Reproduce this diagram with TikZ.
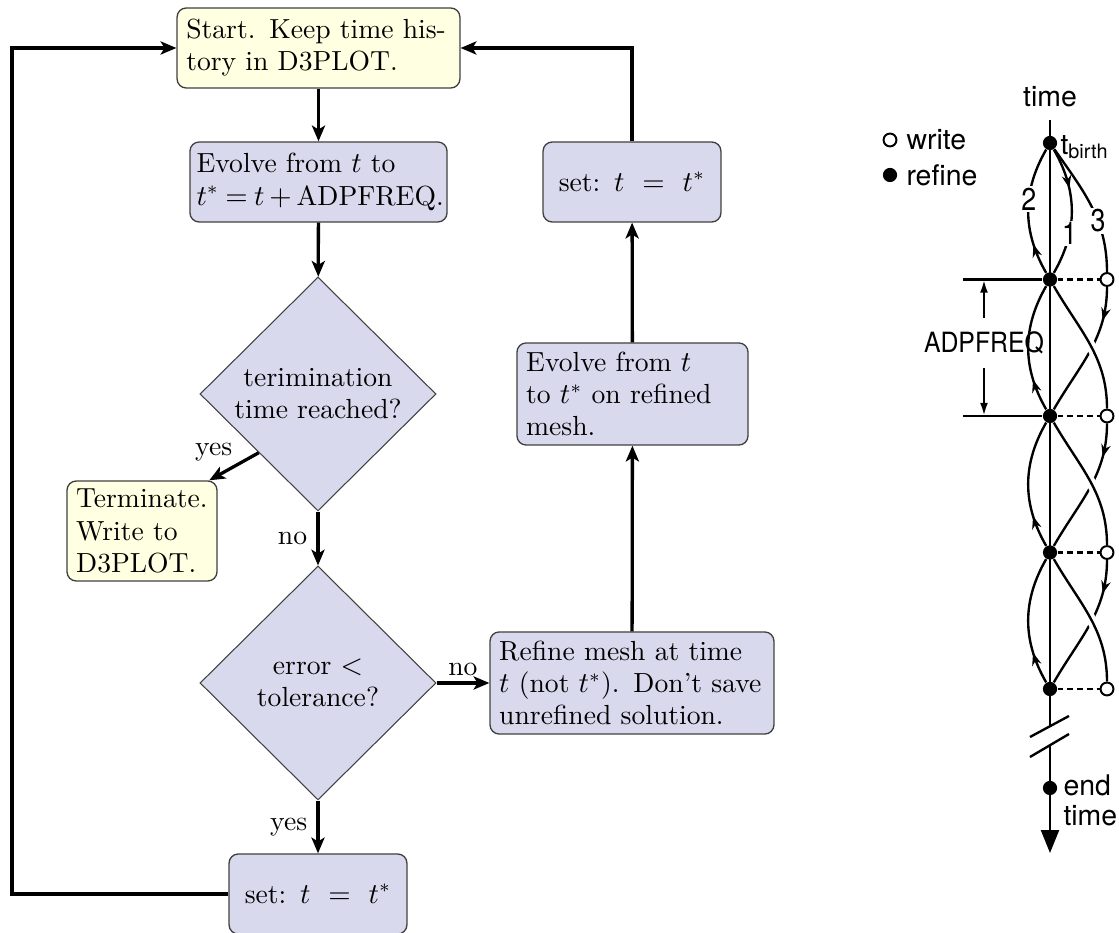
\documentclass[tikz,border=0pt]{standalone}
\usepackage{fontspec}
\usepackage{graphicx}
\usepackage{xcolor}
\usetikzlibrary{shapes.geometric,arrows.meta,decorations.markings}
\newfontfamily\helv{TeX Gyre Heros}
\definecolor{boxyel}{HTML}{FFFFE1}
\definecolor{boxlav}{HTML}{D9D9EE}
\definecolor{boxedge}{HTML}{404040}

\tikzset{
  flowbox/.style={draw=boxedge, line width=0.5pt, rounded corners=3.5pt,
    align=left, inner xsep=3.5pt, inner ysep=2pt,
    font=\fontsize{10.5}{12.2}\selectfont},
  yelbox/.style={flowbox, fill=boxyel},
  lavbox/.style={flowbox, fill=boxlav},
  setbox/.style={lavbox, align=center, text width=60.6pt, minimum height=30.4pt},
  question/.style={diamond, draw=boxedge, line width=0.4pt, fill=boxlav,
    inner sep=0pt, minimum width=89.7pt, minimum height=88.9pt, align=center,
    font=\fontsize{10.5}{12.2}\selectfont},
  flowarrow/.style={line width=1.25pt, -{Stealth[length=6pt,width=5pt,inset=1.5pt]}},
  flowlabel/.style={font=\fontsize{10.5}{12.2}\selectfont, inner sep=3.5pt},
  timeline/.style={line width=0.9pt},
  refdot/.style={circle, fill=black, inner sep=0pt, minimum size=5.4pt},
  writedot/.style={circle, draw=black, fill=white, line width=0.75pt, inner sep=0pt, minimum size=4.9pt},
  midarrow/.style={postaction={decorate}, decoration={markings,
    mark=at position #1 with {\arrow{Stealth[length=4.8pt,width=3.6pt]}}}},
  crossover/.style={preaction={draw=white, line width=3.8pt}},
  helvlabel/.style={font=\helv\fontsize{10.8}{11.4}\selectfont, inner sep=0pt},
  pathnum/.style={font=\helv\fontsize{12}{12}\selectfont, fill=white, inner sep=0.6pt},
}

\begin{document}
\begin{tikzpicture}[x=0.38pt, y=0.38pt]
  \useasboundingbox (0,0) rectangle (1119,933);

  % flow chart
  \node[yelbox, text width=100.5pt, minimum height=30.4pt] (start) at (318.5,885)
    {Start. Keep time his-\\tory in D3PLOT.};
  \node[lavbox, inner xsep=2.5pt, text width=92.7pt, minimum height=30.4pt] (evolve) at (318.5,751)
    {Evolve from $t$ to\\\mbox{\thickmuskip=4mu \medmuskip=3mu $t^* = t + \mathrm{ADPFREQ}$.}};
  \node[question] (reached) at (318,539) {terimination\\time reached?};
  \node[yelbox, text width=50pt, minimum height=38pt] (stop) at (142,402)
    {Terminate.\\Write to\\D3PLOT.};
  \node[question] (tol) at (318,250) {error $<$\\tolerance?};
  \node[setbox] (setlow) at (318,39) {set:\enspace$t \;=\; t^*$};
  \node[lavbox, text width=100.9pt, minimum height=38.8pt] (refine) at (632,250)
    {Refine mesh at time\\$t$ (not $t^*$). Don't save\\unrefined solution.};
  \node[lavbox, text width=80.8pt, minimum height=38.8pt] (evolref) at (632.5,539)
    {Evolve from $t$\\to $t^*$ on refined\\mesh.};
  \node[setbox] (sethigh) at (632,751) {set:\enspace$t \;=\; t^*$};
  \coordinate (loopcorner) at (12,39);

  \draw[flowarrow] (start) -- (evolve);
  \draw[flowarrow] (evolve) -- (reached);
  \draw[flowarrow] (reached.south west) -- node[flowlabel, pos=0.45, above left=0pt, inner sep=1pt] {yes} (stop.37);
  \draw[flowarrow] (reached) -- node[flowlabel, left] {no} (tol);
  \draw[flowarrow] (tol) -- node[flowlabel, left] {yes} (setlow);
  \draw[flowarrow] (tol) -- node[flowlabel, above, inner sep=2pt] {no} (refine);
  \draw[flowarrow] (refine) -- (evolref);
  \draw[flowarrow] (evolref) -- (sethigh);
  \draw[flowarrow] (sethigh) |- (start);
  \draw[flowarrow] (setlow) -- (loopcorner) |- (start);

  % time line
  \foreach \k in {0,...,4}
    \node[refdot] (r\k) at (1050,{790-136.5*\k}) {};
  \foreach \k in {1,...,4}
    \node[writedot] (w\k) at (1107,{790-136.5*\k}) {};
  \node[refdot] (enddot) at (1050,145) {};
  \coordinate (axtop) at (1050,813);
  \coordinate (axend) at (1050,80);

  \draw[timeline, midarrow=0.32] (r0) to[out=-60,in=60] node[pathnum, pos=0.68] {\scalebox{0.85}[1]{1}} (r1);
  \draw[timeline, midarrow=0.24] (r1) to[out=120,in=-120] node[pathnum, pos=0.6] {\scalebox{0.85}[1]{2}} (r0);
  \draw[timeline] (r0) to[out=-55,in=90] node[pathnum, pos=0.62] {\scalebox{0.85}[1]{3}} (w1);
  \foreach \k [count=\n from 2] in {1,2,3} {
    \draw[timeline, midarrow=0.25] (w\k) to[out=-90,in=60] (r\n);
    \draw[timeline, crossover] (r\k) to[out=-60,in=90] (w\n);
    \draw[timeline, midarrow=0.25] (r\n) to[out=120,in=-120] (r\k);
  }
  \foreach \k in {1,...,4}
    \draw[timeline, dash pattern=on 2.2pt off 1.5pt] (r\k) -- (w\k);

  \draw[timeline, -{Triangle[length=8.7pt,width=6.8pt]}] (axtop) -- (axend);
  \fill[white] (1030,196) -- (1069,217) -- (1069,199) -- (1030,176) -- cycle;
  \draw[timeline] (1030,196) -- (1069,217);
  \draw[timeline] (1030,176) -- (1069,199);

  % ADPFREQ span
  \node[helvlabel, font=\helv\fontsize{10.6}{11}\selectfont, inner ysep=5pt] (freq) at (984,590)
    {\scalebox{0.89}[1]{ADPFREQ}};
  \coordinate (tick1) at (963,653.5);
  \coordinate (tick2) at (963,517);
  \coordinate (gap1) at (984,653.5);
  \coordinate (gap2) at (984,517);
  \draw[timeline] (tick1) -- (r1);
  \draw[timeline] (tick2) -- (r2);
  \draw[timeline, -{Latex[length=5pt,width=3pt]}] (freq) -- (gap1);
  \draw[timeline, -{Latex[length=5pt,width=3pt]}] (freq) -- (gap2);

  % labels and key
  \node[helvlabel] (timelabel) at (1050,836) {time};
  \node[helvlabel, anchor=west] (birth) at (1060,786) {t\textsubscript{birth}};
  \node[helvlabel, anchor=west, align=left] (endlabel) at (1063,133) {end\\time};
  \node[writedot] (keywrite) at (890,793) {};
  \node[helvlabel, anchor=west] (keywritetext) at (906,793) {write};
  \node[refdot] (keyrefine) at (890,758) {};
  \node[helvlabel, anchor=west] (keyrefinetext) at (906,758) {refine};
\end{tikzpicture}
\end{document}
